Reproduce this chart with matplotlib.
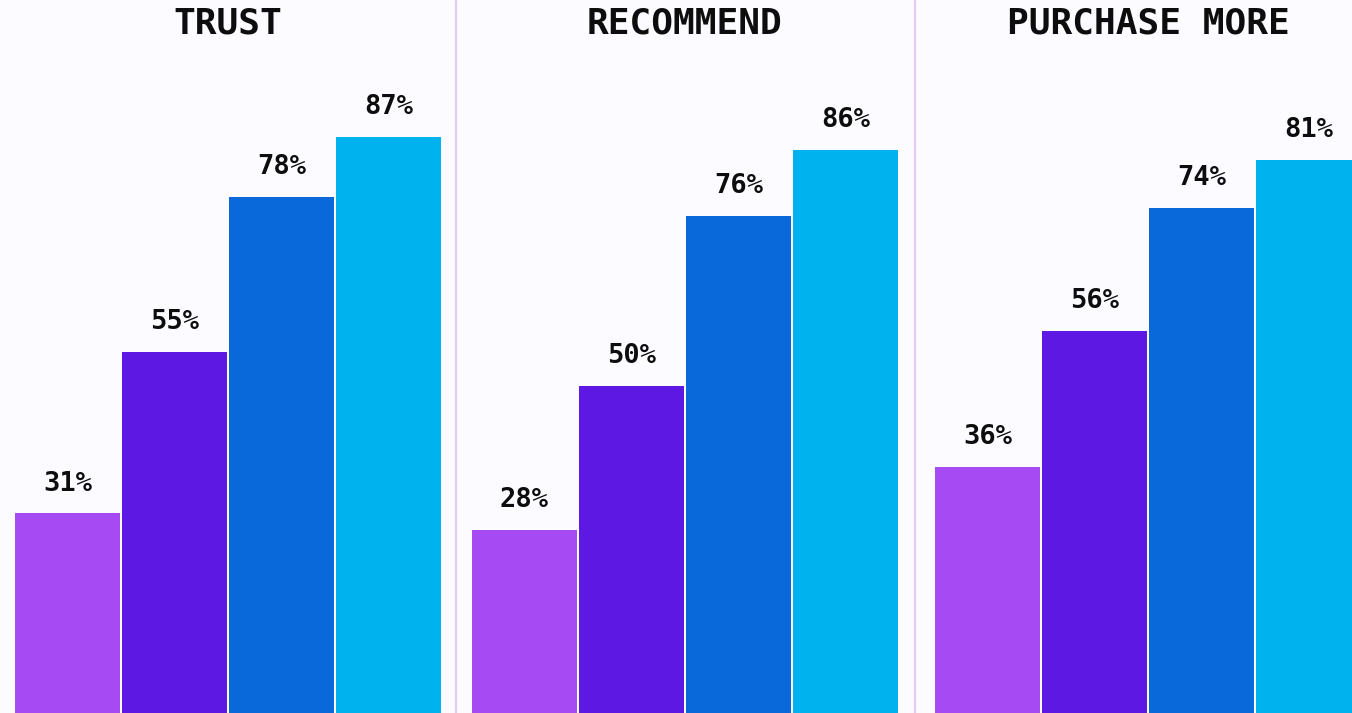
import matplotlib
matplotlib.use("Agg")
import matplotlib.pyplot as plt

# Share of respondents per attribute, four segments each
PANELS = ["TRUST", "RECOMMEND", "PURCHASE MORE"]
TRUST = [31, 55, 78, 87]
RECOMMEND = [28, 50, 76, 86]
PURCHASE_MORE = [36, 56, 74, 81]
SERIES = [TRUST, RECOMMEND, PURCHASE_MORE]

COLORS = ["#a64bf4", "#5e18e3", "#0969db", "#00b3ef"]
BG = "#fcfbff"
DIVIDER = "#e2ccf7"

W, H = 1352, 713
DPI = 100

# per-panel layout: left edge in px and y-limits
PANEL_LEFT = [14, 471, 934]
PANEL_YLIM = [(1.3, 107.3), (0.1, 108.9), (0.0, 104.4)]
PANEL_W = 428

plt.rcParams["font.family"] = ["DejaVu Sans Mono"]

fig = plt.figure(figsize=(W / DPI, H / DPI), dpi=DPI, facecolor=BG)

for name, vals, left, ylim in zip(PANELS, SERIES, PANEL_LEFT, PANEL_YLIM):
    ax = fig.add_axes([left / W, 0, PANEL_W / W, 1])
    ax.set_facecolor("none")
    x = range(len(vals))
    bars = ax.bar(x, vals, width=0.985, color=COLORS)
    ax.set_xlim(-0.5, len(vals) - 0.5)
    ax.set_ylim(*ylim)
    for b, v in zip(bars, vals):
        ax.annotate(f"{v}%", (b.get_x() + b.get_width() / 2, v),
                    xytext=(0, 12), textcoords="offset points",
                    ha="center", va="bottom", fontsize=19.5, fontweight="bold",
                    color="#0d0d0d")
    ax.text(0.5, 1 - 24 / H, name, transform=ax.transAxes, ha="center",
            va="center", fontsize=26, fontweight="bold", color="#0d0d0d")
    ax.axis("off")

# vertical separators between panels
for xpx in (456, 915):
    fig.add_artist(plt.Line2D([xpx / W, xpx / W], [0, 1], color=DIVIDER, lw=1.6))

fig.savefig("out.png", dpi=DPI, facecolor=BG)
